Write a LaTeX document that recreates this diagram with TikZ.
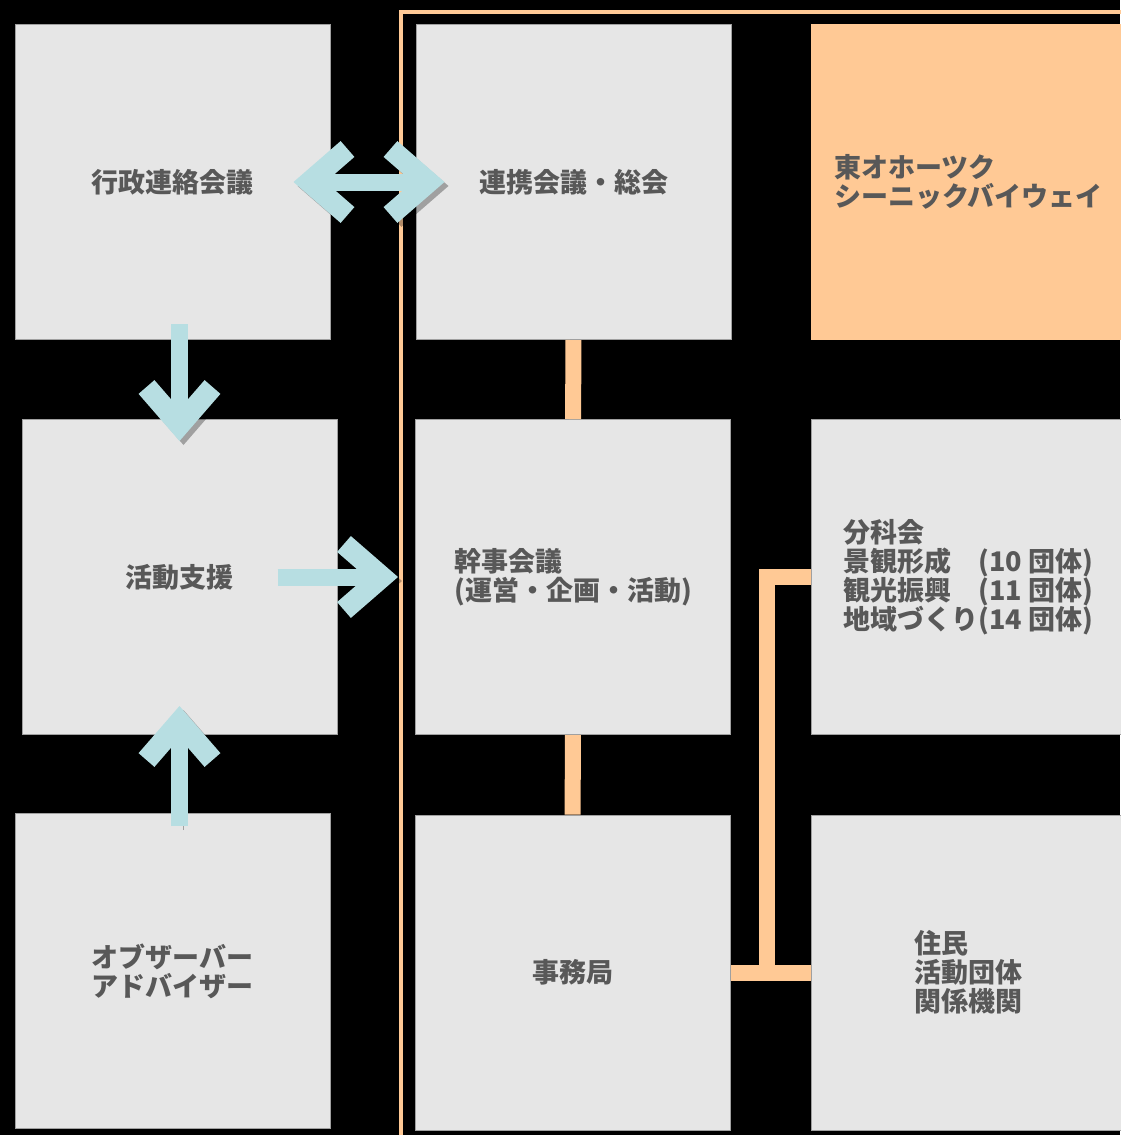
\documentclass[tikz,border=0pt]{standalone}
\usepackage{fontspec}
\newfontfamily\jpfont{Noto Sans CJK JP}
\usepackage{xcolor}
\usepackage{tikz}
\usetikzlibrary{arrows.meta,positioning}

\definecolor{panelgray}{RGB}{230,230,230}
\definecolor{edgegray}{RGB}{160,160,160}
\definecolor{textgray}{RGB}{88,88,88}
\definecolor{arrowblue}{RGB}{183,222,226}
\definecolor{linkorange}{RGB}{255,201,149}

\begin{document}
\begin{tikzpicture}[
  x=1pt, y=-1pt,
  panel/.style={rectangle, minimum width=315pt, minimum height=315pt, inner sep=0pt, draw=edgegray, line width=1pt, fill=panelgray, text=textgray, align=left, font=\jpfont\bfseries\fontsize{27}{29}\selectfont},
  bluearrow/.style={line width=17pt, draw=arrowblue, >={Straight Barb[length=38pt, width=66pt, line width=21pt, sharp]},
    preaction={draw=black, opacity=0.3, transform canvas={shift={(4pt,-4pt)}}}},
  link/.style={line width=16pt, draw=linkorange},
  frame/.style={line width=3.5pt, draw=linkorange}
]
\useasboundingbox (0,0) rectangle (1120,1135);
\fill[black] (0,0) rectangle (1120,1135);

% Frame
\draw [frame] (401,1145) |- (1130,12);

% Left column
\node (gyosei) [panel] at (172.5,182) {行政連絡会議};
\node (shien) [panel] at (179.5,577) {活動支援};
\node (observer) [panel] at (172.5,971) {オブザーバー\\アドバイザー};

% Middle column
\node (renkei) [panel] at (573.5,182) {連携会議・総会};
\node (kanji) [panel] at (573,577) {幹事会議\\(運営・企画・活動)};
\node (jimu) [panel] at (572.5,972.5) {事務局};

% Right column
\node (byway) [panel, fill=linkorange, draw=linkorange] at (968.5,182) {東オホーツク\\シーニックバイウェイ};
\node (bunka) [panel] at (968.5,577) {分科会\\景観形成　(10 団体)\\観光振興　(11 団体)\\地域づくり(14 団体)};
\node (jumin) [panel] at (968.5,972.5) {住民\\活動団体\\関係機関};

% Links
\draw [link] (renkei) -- (kanji);
\draw [link] (kanji) -- (jimu);
\draw [link] (jimu.east) -- (jumin.west);
\coordinate (joint) at (767,972.5);
\draw [link] (joint) |- (bunka.west);

% Arrows
\draw [bluearrow, <->] ([xshift=-37pt]gyosei.east) -- ([xshift=29pt]renkei.west);
\draw [bluearrow, ->] ([xshift=7pt, yshift=16pt]gyosei.south) -- ([yshift=-22pt]shien.north);
\draw [bluearrow, ->] ([xshift=7pt, yshift=-13pt]observer.north) -- ([yshift=29pt]shien.south);
\draw [bluearrow, ->] ([xshift=-60pt]shien.east) -- ([xshift=-17pt]kanji.west);

\end{tikzpicture}
\end{document}
